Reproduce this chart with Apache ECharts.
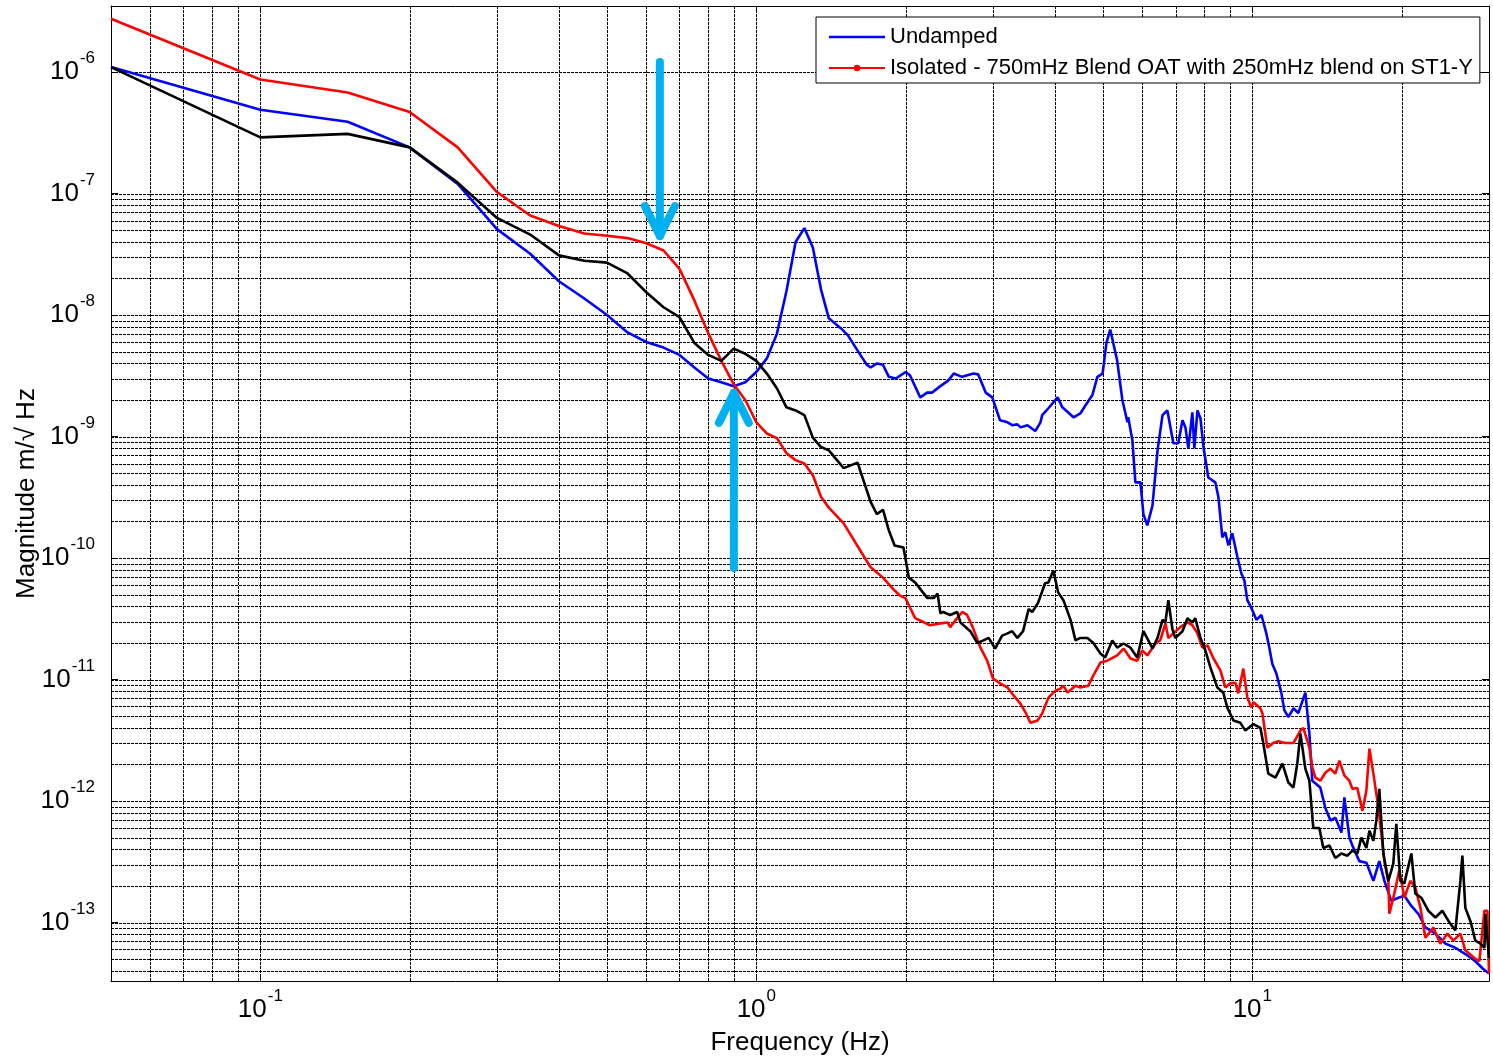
<!DOCTYPE html>
<html>
<head>
<meta charset="utf-8">
<title>ST1-Y transmissibility</title>
<script src="https://cdn.jsdelivr.net/npm/echarts@6/dist/echarts.min.js"></script>
<style>
  html, body { margin: 0; padding: 0; background: #ffffff; }
  #chart { width: 1493px; height: 1061px; }
</style>
</head>
<body>
<div id="chart"></div>
<script>
// ---- Spectra: frequency (Hz) and amplitude spectral density (m/sqrt(Hz)) ----
const undampedFreq = [0.05, 0.1, 0.15, 0.2, 0.25, 0.3, 0.35, 0.4, 0.45, 0.5, 0.55, 0.6, 0.65, 0.7, 0.75, 0.8, 0.85, 0.9, 0.95, 1.0,
  1.05, 1.1, 1.15, 1.2, 1.25, 1.3, 1.35, 1.4, 1.48, 1.53, 1.6, 1.67, 1.7, 1.75, 1.8, 1.85, 1.91, 2.0, 2.04, 2.14,
  2.21, 2.26, 2.35, 2.44, 2.5, 2.6, 2.74, 2.8, 2.9, 2.99, 3.1, 3.21, 3.28, 3.36, 3.41, 3.52, 3.65, 3.74, 3.77, 3.88,
  4.05, 4.14, 4.36, 4.5, 4.61, 4.76, 4.87, 4.99, 5.08, 5.17, 5.34, 5.47, 5.6, 5.62, 5.73, 5.81, 5.95, 6.03, 6.14, 6.29,
  6.44, 6.59, 6.74, 6.93, 7.09, 7.23, 7.33, 7.43, 7.57, 7.64, 7.75, 7.86, 7.97, 8.15, 8.42, 8.54, 8.7, 8.82, 8.95, 9.11,
  9.33, 9.5, 9.64, 9.77, 9.95, 10.19, 10.43, 10.67, 10.82, 10.97, 11.18, 11.44, 11.6, 11.82, 12.1, 12.38, 12.79, 13.03, 13.21, 13.71,
  14.03, 14.37, 14.7, 15.12, 15.33, 15.69, 15.91, 16.43, 16.98, 17.54, 18.03, 18.46, 19.06, 19.7, 20.25, 20.92, 21.61, 22.33, 23.39, 24.5,
  25.66, 26.88, 28.16, 29.09, 30];
const undampedMag = [1.1e-6, 4.9e-7, 3.9e-7, 2.4e-7, 1.2e-7, 5.1e-8, 3.2e-8, 1.9e-8, 1.37e-8, 1.0e-8, 7.2e-9, 6.0e-9, 5.4e-9, 4.7e-9, 3.7e-9, 3.0e-9, 2.8e-9, 2.6e-9, 2.8e-9, 3.4e-9,
  4.4e-9, 7.0e-9, 1.57e-8, 4.0e-8, 5.2e-8, 3.6e-8, 1.63e-8, 9.4e-9, 7.8e-9, 6.8e-9, 5.1e-9, 3.9e-9, 3.7e-9, 4.0e-9, 3.9e-9, 3.1e-9, 3.0e-9, 3.4e-9, 3.2e-9, 2.1e-9,
  2.3e-9, 2.3e-9, 2.6e-9, 2.9e-9, 3.3e-9, 3.1e-9, 3.3e-9, 3.25e-9, 2.3e-9, 2.1e-9, 1.36e-9, 1.31e-9, 1.24e-9, 1.26e-9, 1.19e-9, 1.24e-9, 1.11e-9, 1.31e-9, 1.5e-9, 1.71e-9,
  2.1e-9, 1.74e-9, 1.44e-9, 1.55e-9, 1.81e-9, 2.2e-9, 3.1e-9, 3.3e-9, 5.9e-9, 7.6e-9, 4.2e-9, 2.0e-9, 1.31e-9, 1.44e-9, 9.3e-10, 4.2e-10, 4.2e-10, 2.3e-10, 1.86e-10, 2.7e-10,
  7.7e-10, 1.5e-9, 1.64e-9, 8.8e-10, 8.8e-10, 1.36e-9, 1.19e-9, 8.0e-10, 1.58e-9, 8.0e-10, 1.64e-9, 1.41e-9, 8.2e-10, 4.6e-10, 4.2e-10, 3.2e-10, 1.48e-10, 1.63e-10, 1.27e-10, 1.6e-10,
  1.02e-10, 7.5e-11, 6.5e-11, 4.5e-11, 3.9e-11, 3.1e-11, 3.4e-11, 2.4e-11, 1.83e-11, 1.35e-11, 1.12e-11, 7.8e-12, 5.6e-12, 4.9e-12, 5.8e-12, 5.3e-12, 7.8e-12, 3.6e-12, 1.47e-12, 1.29e-12,
  8.8e-13, 6.9e-13, 7.3e-13, 5.5e-13, 1.07e-12, 5.0e-13, 4.3e-13, 3.2e-13, 3.1e-13, 2.2e-13, 3.2e-13, 2.2e-13, 1.51e-13, 1.6e-13, 1.66e-13, 1.37e-13, 1.18e-13, 9.1e-14, 8.1e-14, 6.7e-14,
  6.2e-14, 5.5e-14, 4.8e-14, 4.2e-14, 3.8e-14];

const isolatedFreq = [0.05, 0.1, 0.15, 0.2, 0.25, 0.3, 0.35, 0.4, 0.45, 0.5, 0.55, 0.6, 0.65, 0.7, 0.75, 0.8, 0.85, 0.9, 0.95, 1.0,
  1.05, 1.1, 1.15, 1.2, 1.25, 1.3, 1.35, 1.4, 1.5, 1.65, 1.7, 1.8, 1.9, 1.95, 2.0, 2.09, 2.24, 2.35, 2.43, 2.46,
  2.54, 2.6, 2.66, 2.73, 2.83, 2.92, 3.0, 3.1, 3.21, 3.3, 3.41, 3.49, 3.57, 3.69, 3.77, 3.88, 4.01, 4.1, 4.16, 4.24,
  4.4, 4.5, 4.67, 4.78, 4.94, 5.1, 5.34, 5.5, 5.68, 5.86, 6.0, 6.14, 6.38, 6.52, 6.68, 6.77, 6.93, 7.16, 7.4, 7.57,
  7.75, 7.93, 8.12, 8.35, 8.62, 8.82, 9.03, 9.24, 9.37, 9.59, 9.77, 9.95, 10.05, 10.38, 10.48, 10.72, 11.02, 11.28, 11.65, 12.1,
  12.5, 12.67, 13.03, 13.21, 13.4, 13.71, 14.03, 14.37, 14.7, 14.98, 15.33, 15.69, 15.91, 16.28, 16.67, 16.98, 17.22, 17.54, 17.95, 18.2,
  18.46, 18.8, 18.89, 19.33, 19.79, 20.25, 20.82, 21.31, 21.82, 22.33, 23.17, 23.93, 24.73, 25.42, 26.27, 26.88, 28.03, 28.69, 29.37, 29.78,
  30];
const isolatedMag = [2.75e-6, 8.7e-7, 6.8e-7, 4.7e-7, 2.4e-7, 1.03e-7, 6.6e-8, 5.4e-8, 4.7e-8, 4.5e-8, 4.3e-8, 3.9e-8, 3.4e-8, 2.4e-8, 1.32e-8, 7.1e-9, 4.2e-9, 2.7e-9, 2.0e-9, 1.31e-9,
  1.06e-9, 9.7e-10, 7.3e-10, 6.4e-10, 6.0e-10, 4.8e-10, 3.2e-10, 2.6e-10, 1.93e-10, 1.02e-10, 8.4e-11, 6.9e-11, 5.4e-11, 4.9e-11, 4.65e-11, 3.2e-11, 2.8e-11, 2.9e-11, 2.95e-11, 2.7e-11,
  3.2e-11, 3.6e-11, 3.4e-11, 2.7e-11, 1.83e-11, 1.43e-11, 1.02e-11, 9.3e-12, 8.6e-12, 7.4e-12, 6.3e-12, 5.35e-12, 4.4e-12, 4.6e-12, 5.25e-12, 7.1e-12, 8.1e-12, 8.4e-12, 8.9e-12, 7.8e-12,
  8.9e-12, 8.6e-12, 8.9e-12, 1.08e-11, 1.38e-11, 1.43e-11, 1.58e-11, 1.8e-11, 1.49e-11, 1.43e-11, 1.74e-11, 1.58e-11, 1.98e-11, 2.1e-11, 2.9e-11, 2.2e-11, 2.4e-11, 2.7e-11, 2.95e-11, 2.8e-11,
  2.4e-11, 1.83e-11, 1.91e-11, 1.49e-11, 1.19e-11, 8.6e-12, 9.3e-12, 9.4e-12, 7.7e-12, 1.23e-11, 7.1e-12, 5.9e-12, 6.5e-12, 5.8e-12, 5.25e-12, 2.75e-12, 3.0e-12, 3.1e-12, 3.0e-12, 3.0e-12,
  3.8e-12, 4.0e-12, 2.75e-12, 1.88e-12, 1.56e-12, 1.47e-12, 1.71e-12, 1.85e-12, 1.68e-12, 2.15e-12, 1.62e-12, 1.47e-12, 1.26e-12, 1.28e-12, 8.3e-13, 1.22e-12, 2.7e-12, 1.68e-12, 8.8e-13, 5.4e-13,
  3.2e-13, 2.2e-13, 1.18e-13, 1.73e-13, 2.7e-13, 1.6e-13, 2.2e-13, 1.94e-13, 1.32e-13, 7.5e-14, 9.1e-14, 6.7e-14, 8.1e-14, 7.1e-14, 8.1e-14, 5.9e-14, 5.1e-14, 4.8e-14, 1.25e-13, 1.25e-13,
  3.8e-14];

const dampedFreq = [0.05, 0.1, 0.15, 0.2, 0.25, 0.3, 0.35, 0.4, 0.45, 0.5, 0.55, 0.6, 0.65, 0.7, 0.75, 0.8, 0.85, 0.9, 0.95, 1.0,
  1.05, 1.1, 1.15, 1.2, 1.25, 1.3, 1.35, 1.4, 1.5, 1.6, 1.7, 1.75, 1.8, 1.85, 1.9, 1.98, 2.03, 2.09, 2.21, 2.28,
  2.32, 2.35, 2.38, 2.46, 2.54, 2.58, 2.7, 2.79, 2.87, 2.94, 3.03, 3.13, 3.21, 3.28, 3.36, 3.45, 3.54, 3.6, 3.7, 3.82,
  3.88, 3.97, 4.06, 4.16, 4.3, 4.4, 4.5, 4.65, 4.78, 4.94, 5.05, 5.22, 5.34, 5.5, 5.68, 5.86, 6.03, 6.17, 6.29, 6.44,
  6.59, 6.68, 6.77, 6.9, 6.99, 7.23, 7.4, 7.57, 7.67, 7.86, 8.04, 8.23, 8.5, 8.74, 8.9, 9.16, 9.46, 9.68, 10.05, 10.38,
  10.52, 10.77, 11.13, 11.5, 11.82, 12.1, 12.32, 12.5, 12.79, 13.03, 13.27, 13.65, 13.9, 14.3, 14.7, 15.12, 15.55, 15.91, 16.28, 16.59,
  16.98, 17.22, 17.54, 17.78, 18.03, 18.37, 18.8, 19.24, 19.51, 19.88, 20.25, 20.92, 21.31, 21.91, 22.63, 23.39, 24.16, 24.85, 25.66, 26.27,
  26.51, 26.88, 27.51, 28.16, 28.83, 29.37, 29.5, 30];
const dampedMag = [1.1e-6, 2.9e-7, 3.1e-7, 2.4e-7, 1.23e-7, 6.3e-8, 4.6e-8, 3.1e-8, 2.8e-8, 2.7e-8, 2.2e-8, 1.54e-8, 1.16e-8, 9.6e-9, 5.9e-9, 4.7e-9, 4.2e-9, 5.3e-9, 4.8e-9, 4.2e-9,
  3.3e-9, 2.5e-9, 1.74e-9, 1.64e-9, 1.5e-9, 9.8e-10, 8.2e-10, 7.7e-10, 5.5e-10, 6.1e-10, 2.9e-10, 2.3e-10, 2.5e-10, 1.69e-10, 1.27e-10, 1.22e-10, 6.9e-11, 6.3e-11, 4.7e-11, 4.7e-11,
  5.1e-11, 3.5e-11, 3.6e-11, 3.4e-11, 3.6e-11, 2.95e-11, 2.5e-11, 2.0e-11, 2.1e-11, 2.2e-11, 1.8e-11, 2.3e-11, 2.4e-11, 2.5e-11, 2.2e-11, 2.5e-11, 3.8e-11, 3.6e-11, 4.3e-11, 6.2e-11,
  6.3e-11, 7.9e-11, 5.2e-11, 4.5e-11, 3.1e-11, 2.1e-11, 2.2e-11, 2.2e-11, 2.0e-11, 1.64e-11, 1.52e-11, 2.1e-11, 1.83e-11, 1.98e-11, 1.83e-11, 1.52e-11, 2.5e-11, 2.1e-11, 1.8e-11, 2.2e-11,
  3.1e-11, 2.95e-11, 4.5e-11, 2.6e-11, 2.2e-11, 2.5e-11, 3.2e-11, 2.95e-11, 3.2e-11, 2.2e-11, 1.74e-11, 1.26e-11, 8.6e-12, 7.8e-12, 5.9e-12, 4.6e-12, 4.4e-12, 3.8e-12, 4.3e-12, 4.0e-12,
  3.0e-12, 1.68e-12, 1.56e-12, 2.03e-12, 1.42e-12, 1.29e-12, 2.03e-12, 3.6e-12, 1.85e-12, 1.47e-12, 6.0e-13, 6.0e-13, 4.1e-13, 4.3e-13, 3.4e-13, 3.7e-13, 3.55e-13, 3.9e-13, 3.7e-13, 5.0e-13,
  4.1e-13, 5.7e-13, 4.7e-13, 6.9e-13, 1.26e-12, 3.7e-13, 2.2e-13, 3.05e-13, 6.5e-13, 2.2e-13, 2.1e-13, 3.7e-13, 1.73e-13, 1.6e-13, 1.25e-13, 1.1e-13, 1.25e-13, 1.03e-13, 8.6e-14, 2.2e-13,
  3.55e-13, 1.32e-13, 1.03e-13, 7.1e-14, 6.7e-14, 6.2e-14, 1.18e-13, 5.1e-14];

// Annotation arrows: frequency, start amplitude, end (tip) amplitude
const arrowFreq = [0.639, 0.901];
const arrowFrom = [1.21e-6, 8.3e-11];
const arrowTo = [4.47e-8, 2.29e-9];

// Axis limits
const freqMin = 0.05, freqMax = 30;
const magMin = 3.3e-14, magMax = 3.5e-6;

const seriesNames = ['Undamped', 'Isolated - 750mHz Blend OAT with 250mHz blend on ST1-Y', 'Damped'];

// ---- Log-paper grid lines (decades plus 2..9 subdivisions) ----
const gridData = [];
[0.01, 0.1, 1, 10].forEach(function (d) {
  for (let m = 1; m <= 9; m++) {
    const v = +(m * d).toPrecision(6);
    if (v > freqMin * 1.0001 && v < freqMax * 0.9999) gridData.push([v, magMin, 0]);
  }
});
for (let k = -14; k <= -6; k++) {
  for (let m = 1; m <= 9; m++) {
    const v = +(m * Math.pow(10, k)).toPrecision(6);
    if (m > 1 && k > -8) continue; // no subdivisions in the upper decades
    if (v > magMin * 1.0001 && v < magMax * 0.9999) gridData.push([freqMin, v, 1]);
  }
}

const FONT = '"Liberation Sans", Arial, Helvetica, sans-serif';

function pairs(xs, ys) { return xs.map(function (x, i) { return [x, ys[i]]; }); }

// "10" with a raised exponent for each decade tick
function powerLabel(value) {
  const l = Math.log10(value);
  const e = Math.round(l);
  if (Math.abs(l - e) > 1e-6) return '';
  return '{b|10}{s|' + e + '}';
}
const labelRich = {
  b: { fontSize: 26, lineHeight: 44, fontFamily: FONT, color: '#000', verticalAlign: 'middle' },
  s: { fontSize: 17, lineHeight: 17, fontFamily: FONT, color: '#000', verticalAlign: 'top', padding: [0, 0, 0, 1] }
};

const chart = echarts.init(document.getElementById('chart'), null, { renderer: 'canvas' });

const baseAxisLine = { show: true, lineStyle: { color: '#000', width: 1 } };
const baseTick = { show: true, inside: true, length: 7, lineStyle: { color: '#000', width: 1 } };

chart.setOption({
  animation: false,
  backgroundColor: '#ffffff',
  grid: { left: 111, right: 4, top: 6, bottom: 80, containLabel: false, outerBoundsMode: 'none' },
  legend: {
    data: [
      { name: seriesNames[0], icon: 'path://M0,0L56,0L56,2.6L0,2.6Z' },
      { name: seriesNames[1] }
    ],
    orient: 'vertical',
    left: 816, top: 17,
    padding: [9, 7, 4, 12],
    itemGap: 9,
    itemWidth: 56, itemHeight: 8,
    symbolKeepAspect: true,
    backgroundColor: '#ffffff',
    borderColor: '#000', borderWidth: 1, borderRadius: 0,
    selectedMode: false,
    textStyle: { fontSize: 22, lineHeight: 22, fontFamily: FONT, color: '#000' }
  },
  xAxis: [
    {
      type: 'log', logBase: 10, min: freqMin, max: freqMax, position: 'bottom',
      axisLine: baseAxisLine, axisTick: baseTick,
      axisLabel: { formatter: powerLabel, rich: labelRich, margin: 7, showMinLabel: true, showMaxLabel: true },
      splitLine: { show: false }, minorTick: { show: false },
      name: 'Frequency (Hz)', nameLocation: 'middle', nameGap: 49, nameMoveOverlap: false,
      nameTextStyle: { fontSize: 26, fontFamily: FONT, color: '#000' }
    },
    {
      type: 'log', logBase: 10, min: freqMin, max: freqMax, position: 'top',
      axisLine: baseAxisLine, axisTick: baseTick, axisLabel: { show: false }, splitLine: { show: false }
    }
  ],
  yAxis: [
    {
      type: 'log', logBase: 10, min: magMin, max: magMax, position: 'left',
      axisLine: baseAxisLine, axisTick: baseTick,
      axisLabel: { formatter: powerLabel, rich: labelRich, margin: 16 },
      splitLine: { show: false }, minorTick: { show: false },
      name: 'Magnitude m/\u221A Hz', nameLocation: 'middle', nameGap: 71, nameRotate: 90, nameMoveOverlap: false,
      nameTextStyle: { fontSize: 26, fontFamily: FONT, color: '#000' }
    },
    {
      type: 'log', logBase: 10, min: magMin, max: magMax, position: 'right',
      axisLine: baseAxisLine, axisTick: baseTick, axisLabel: { show: false }, splitLine: { show: false }
    }
  ],
  series: [
    {
      type: 'custom', name: 'grid', silent: true, z: 1, clip: false,
      xAxisIndex: 0, yAxisIndex: 0,
      dimensions: ['x', 'y', 'o'], encode: { x: 0, y: 1 },
      data: gridData,
      renderItem: function (params, api) {
        const cs = params.coordSys;
        const p = api.coord([api.value(0), api.value(1)]);
        const style = { stroke: '#000', lineWidth: 1, lineDash: [3, 1], fill: null };
        if (api.value(2) === 0) {
          const x = Math.round(p[0]) + 0.5;
          return { type: 'line', shape: { x1: x, y1: cs.y, x2: x, y2: cs.y + cs.height }, style: style, silent: true };
        }
        const y = Math.round(p[1]) + 0.5;
        return { type: 'line', shape: { x1: cs.x, y1: y, x2: cs.x + cs.width, y2: y }, style: style, silent: true };
      }
    },
    {
      type: 'line', name: seriesNames[0], data: pairs(undampedFreq, undampedMag),
      symbol: 'none', color: '#0000ff', lineStyle: { color: '#0000ff', width: 2.6 }, z: 2
    },
    {
      type: 'line', name: seriesNames[1], data: pairs(isolatedFreq, isolatedMag),
      symbol: 'circle', symbolSize: 6, showSymbol: false, color: '#ff0000',
      itemStyle: { color: '#ff0000' }, lineStyle: { color: '#ff0000', width: 2.6 }, z: 2
    },
    {
      type: 'line', name: seriesNames[2], data: pairs(dampedFreq, dampedMag),
      symbol: 'none', color: '#000000', lineStyle: { color: '#000000', width: 2.6 }, z: 2
    },
    {
      type: 'custom', name: 'arrows', silent: true, z: 5, clip: false,
      dimensions: ['x', 'from', 'to'], encode: { x: 0, y: [1, 2] },
      data: arrowFreq.map(function (f, i) { return [f, arrowFrom[i], arrowTo[i]]; }),
      renderItem: function (params, api) {
        const p0 = api.coord([api.value(0), api.value(1)]);
        const p1 = api.coord([api.value(0), api.value(2)]);
        const dir = p1[1] > p0[1] ? 1 : -1;
        const style = { stroke: '#00b0f0', lineWidth: 8, lineCap: 'round', lineJoin: 'round', fill: null };
        return {
          type: 'group',
          children: [
            { type: 'line', shape: { x1: p0[0], y1: p0[1], x2: p1[0], y2: p1[1] }, style: style },
            { type: 'polyline', shape: { points: [[p1[0] - 15, p1[1] - dir * 30], [p1[0], p1[1]], [p1[0] + 15, p1[1] - dir * 30]] }, style: style }
          ]
        };
      }
    }
  ]
});
</script>
</body>
</html>
